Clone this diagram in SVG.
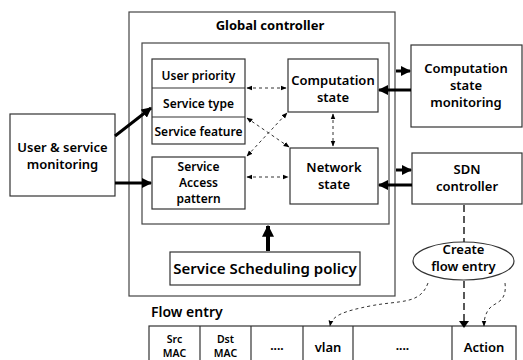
<svg xmlns="http://www.w3.org/2000/svg" width="523" height="360" viewBox="0 0 523 360">
  <defs>
    <marker id="thick" viewBox="0 0 10 10" refX="9" refY="5" markerWidth="3.4" markerHeight="3.4" orient="auto">
      <path d="M0,0 L10,5 L0,10 z" fill="#000"/>
    </marker>
    <marker id="big" viewBox="0 0 10 10" refX="9" refY="5" markerWidth="3" markerHeight="3" orient="auto">
      <path d="M0,0 L10,5 L0,10 z" fill="#000"/>
    </marker>
    <marker id="thin" viewBox="0 0 10 10" refX="9" refY="5" markerWidth="6" markerHeight="6" orient="auto-start-reverse">
      <path d="M0,1 L10,5 L0,9 z" fill="#000"/>
    </marker>
  </defs>
  <style>
    text { font-family: "Noto Sans", "Open Sans", "Noto Sans CJK KR", sans-serif; fill: #000; text-anchor: middle; }
    .box { fill: #fff; stroke: #333; stroke-width: 1.2; }
    .frame { fill: none; stroke: #444; stroke-width: 1.2; }
    .lbl { font-size: 12px; font-weight: 600; }
    .big { font-size: 13px; font-weight: 600; }
    .title { font-size: 13px; font-weight: 700; }
    .sched { font-size: 15px; font-weight: 600; }
    .cell { font-size: 10.5px; font-weight: 600; }
    .dots { font-size: 12px; font-weight: 700; }
    .thick { stroke: #000; stroke-width: 3; fill: none; marker-end: url(#thick); }
    .dash2 { stroke: #333; stroke-width: 1; stroke-dasharray: 3 3; fill: none; marker-start: url(#thin); marker-end: url(#thin); }
    .dash1 { stroke: #333; stroke-width: 1; stroke-dasharray: 3 3; fill: none; marker-end: url(#thin); }
    .longdash { stroke: #222; stroke-width: 1.5; stroke-dasharray: 7 4; fill: none; }
  </style>

  <!-- global controller frame -->
  <g id="global-controller">
    <rect class="frame" x="129" y="12" width="266" height="284"/>
    <text class="title" x="270" y="30">Global controller</text>
    <rect class="frame" x="142" y="43" width="247" height="181"/>
  </g>

  <g id="service-info">
    <rect class="box" x="152" y="59" width="93" height="85"/>
    <line x1="152" y1="88" x2="245" y2="88" stroke="#333" stroke-width="1.2"/>
    <line x1="152" y1="117" x2="245" y2="117" stroke="#333" stroke-width="1.2"/>
    <text class="lbl" x="198.5" y="80">User priority</text>
    <text class="lbl" x="198.5" y="108">Service type</text>
    <text class="lbl" x="198.5" y="136">Service feature</text>
  </g>

  <g id="access-pattern">
    <rect class="box" x="152" y="157" width="93" height="52"/>
    <text class="lbl" x="198.5" y="171">Service</text>
    <text class="lbl" x="198.5" y="187">Access</text>
    <text class="lbl" x="198.5" y="203">pattern</text>
  </g>

  <g id="computation-state">
    <rect class="box" x="288" y="59" width="90" height="53"/>
    <text class="big" x="333" y="85">Computation</text>
    <text class="big" x="333" y="102">state</text>
  </g>

  <g id="network-state">
    <rect class="box" x="290" y="148" width="88" height="56"/>
    <text class="big" x="334" y="172">Network</text>
    <text class="big" x="334" y="189">state</text>
  </g>

  <g id="user-monitoring">
    <rect class="box" x="10" y="114" width="105" height="82"/>
    <text class="big" x="62.5" y="152">User &amp; service</text>
    <text class="big" x="62.5" y="169">monitoring</text>
  </g>

  <g id="computation-monitoring">
    <rect class="box" x="411" y="45" width="111" height="82"/>
    <text class="big" x="466" y="73">Computation</text>
    <text class="big" x="466" y="90">state</text>
    <text class="big" x="466" y="107">monitoring</text>
  </g>

  <g id="sdn-controller">
    <rect class="box" x="412" y="153" width="110" height="51"/>
    <text class="big" x="467" y="174">SDN</text>
    <text class="big" x="467" y="191">controller</text>
  </g>

  <g id="scheduling-policy">
    <rect class="box" x="170" y="252" width="190" height="33"/>
    <text class="sched" x="265" y="274">Service Scheduling policy</text>
  </g>

  <g id="create-flow-entry">
    <ellipse cx="463.5" cy="261" rx="50.5" ry="19" fill="#fff" stroke="#333" stroke-width="1.2"/>
    <text class="big" x="463.5" y="254">Create</text>
    <text class="big" x="463.5" y="271">flow entry</text>
  </g>

  <g id="flow-entry">
    <text style="font-size:14px;font-weight:600;text-anchor:start" x="151" y="317">Flow entry</text>
    <rect class="box" x="149" y="326" width="367" height="40"/>
    <line x1="200" y1="326" x2="200" y2="366" stroke="#333" stroke-width="1.2"/>
    <line x1="251" y1="326" x2="251" y2="366" stroke="#333" stroke-width="1.2"/>
    <line x1="303" y1="326" x2="303" y2="366" stroke="#333" stroke-width="1.2"/>
    <line x1="353" y1="326" x2="353" y2="366" stroke="#333" stroke-width="1.2"/>
    <line x1="452" y1="326" x2="452" y2="366" stroke="#333" stroke-width="1.2"/>
    <text class="cell" x="174.5" y="343">Src</text>
    <text class="cell" x="174.5" y="357">MAC</text>
    <text class="cell" x="225.5" y="343">Dst</text>
    <text class="cell" x="225.5" y="357">MAC</text>
    <text class="dots" x="277" y="350">....</text>
    <text class="big" x="328" y="352">vlan</text>
    <text class="dots" x="402.5" y="350">....</text>
    <text class="big" x="484" y="352">Action</text>
  </g>

  <g id="connectors">
    <!-- monitoring inputs -->
    <line class="thick" x1="115" y1="136" x2="151" y2="108"/>
    <line class="thick" x1="115" y1="183" x2="151" y2="183"/>
    <!-- computation state monitoring -->
    <line class="thick" x1="396" y1="71" x2="410" y2="71"/>
    <line class="thick" x1="411" y1="90" x2="379" y2="90"/>
    <!-- SDN controller -->
    <line class="thick" x1="396" y1="170" x2="411" y2="170"/>
    <line class="thick" x1="412" y1="185" x2="379" y2="185"/>
    <!-- scheduling policy into controller -->
    <line x1="268" y1="251" x2="268" y2="226" stroke="#000" stroke-width="4" marker-end="url(#big)"/>
    <!-- internal dashed relations -->
    <line class="dash2" x1="247" y1="88" x2="286" y2="88"/>
    <line class="dash2" x1="247" y1="177" x2="288" y2="177"/>
    <line class="dash2" x1="247" y1="118" x2="289" y2="147"/>
    <line class="dash2" x1="247" y1="156" x2="287" y2="113"/>
    <line class="dash2" x1="333" y1="114" x2="333" y2="146"/>
    <!-- flow entry creation -->
    <line class="longdash" x1="464" y1="205" x2="464" y2="242"/>
    <line class="longdash" x1="464" y1="281" x2="464" y2="321"/>
    <path d="M459,321 L469,321 L464,328 z" fill="#000"/>
    <path class="dash1" d="M428,283 C420,305 400,300 370,306 C345,311 332,315 330,326"/>
    <path class="dash1" d="M505,283 C507,300 498,302 492,306 C486,311 484,318 484,326"/>
  </g>
</svg>
